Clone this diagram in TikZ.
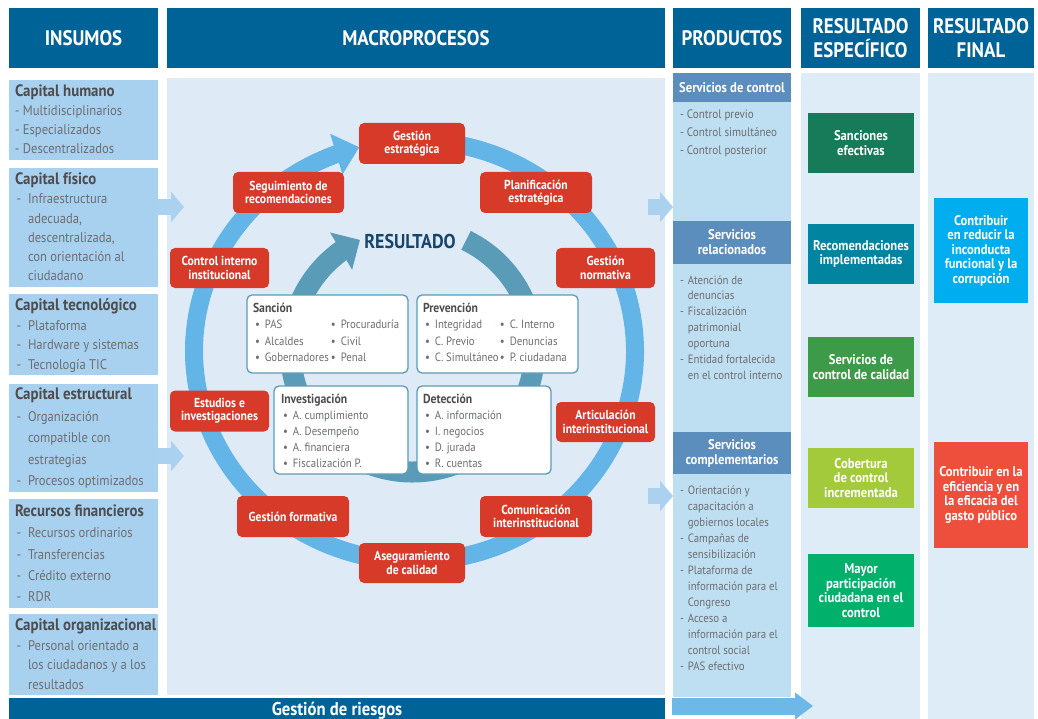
\documentclass[tikz,border=0pt]{standalone}
\usepackage{fontspec}
\setmainfont{PT Sans}[FakeStretch=0.9]
\usetikzlibrary{positioning,arrows.meta,bending}

\definecolor{hdrblue}{HTML}{006398}
\definecolor{inblue}{HTML}{A8D0EF}
\definecolor{panelbg}{HTML}{DEEBF7}
\definecolor{prodbg}{HTML}{BEDEF1}
\definecolor{prodhdr}{HTML}{5B8DBD}
\definecolor{resbg}{HTML}{DDECF6}
\definecolor{procred}{HTML}{D83A2A}
\definecolor{ringout}{HTML}{62B5E6}
\definecolor{ringin}{HTML}{5A9CB8}
\definecolor{titgray}{HTML}{4D4D4F}
\definecolor{txtgray}{HTML}{6D6E71}
\definecolor{resnavy}{HTML}{17456B}
\definecolor{arrblue}{HTML}{AAD2F0}
\definecolor{arrbot}{HTML}{6DB8E6}
\definecolor{rsanc}{HTML}{177A58}
\definecolor{rrecom}{HTML}{00849F}
\definecolor{rcalid}{HTML}{3C9A48}
\definecolor{rcobert}{HTML}{A3CA3B}
\definecolor{rpartic}{HTML}{00B06B}
\definecolor{freduc}{HTML}{00AEEF}
\definecolor{fefic}{HTML}{EE4F3C}

\newcommand{\boxtitle}{\color{titgray}\bfseries\fontsize{16.5}{19}\selectfont}
\newcommand{\grptitle}{\color{titgray}\bfseries\fontsize{13}{16}\selectfont}

\begin{document}
\begin{tikzpicture}[
    x=1pt, y=-1pt,
    every node/.style={inner sep=0pt, outer sep=0pt},
    hdr/.style={fill=hdrblue, text=white, align=center, minimum height=60pt,
        font=\bfseries\fontsize{21}{24}\selectfont},
    inbox/.style={fill=inblue, minimum width=149pt, anchor=north west},
    intxt/.style={anchor=base west, text=txtgray},
    proc/.style={fill=procred, text=white, rounded corners=5pt, align=center,
        minimum height=41pt, font=\bfseries\fontsize{13}{13.5}\selectfont},
    grupo/.style={draw=ringin, line width=1.3pt, fill=white, rounded corners=5pt},
    grptxt/.style={anchor=base west, text=txtgray, font=\fontsize{12}{16.4}\selectfont},
    prodhead/.style={fill=prodhdr, text=white, align=center, minimum width=118pt,
        anchor=north west, font=\bfseries\fontsize{14}{15}\selectfont},
    prodtxt/.style={anchor=base west, text=txtgray},
    resbox/.style={text=white, align=center, minimum width=106pt,
        font=\bfseries\fontsize{14}{14.5}\selectfont},
    flecha/.style={draw=arrblue, line width=16pt, -{Triangle[length=13pt,width=30pt]}}
]
\fill[white] (0,0) rectangle (1038,719);
\useasboundingbox (0,0) rectangle (1038,719);

% ---------------- Headers ----------------
\node[hdr, minimum width=149pt] (insumos) at (83.5,38) {INSUMOS};
\node[hdr, minimum width=498pt] (macro) at (416,38) {MACROPROCESOS};
\node[hdr, minimum width=118pt] (productos) at (732,38) {PRODUCTOS};
\node[hdr, minimum width=119pt] (resesp) at (860.5,38) {RESULTADO\\ESPECÍFICO};
\node[hdr, minimum width=106pt] (resfin) at (981,38) {RESULTADO\\FINAL};

% ---------------- Column backgrounds ----------------
\node[fill=panelbg, minimum width=498pt, minimum height=617pt, anchor=north west] (panel) at (167,78) {};
\node[fill=prodbg, minimum width=118pt, minimum height=624pt, anchor=north west] (prodcol) at (673,73) {};
\node[fill=resbg, minimum width=119pt, minimum height=646pt, anchor=north west] (espcol) at (801,73) {};
\node[fill=resbg, minimum width=106pt, minimum height=646pt, anchor=north west] (fincol) at (928,73) {};

% ---------------- Insumos ----------------
\node[inbox, minimum height=80pt] (hum) at (9,80) {};
\node[inbox, minimum height=119pt] (fis) at (9,168) {};
\node[inbox, minimum height=81pt] (tec) at (9,294) {};
\node[inbox, minimum height=108pt] (est) at (9,384) {};
\node[inbox, minimum height=109pt] (fin) at (9,499) {};
\node[inbox, minimum height=81pt] (org) at (9,614) {};

\node[intxt, font=\fontsize{14}{19}\selectfont] (humtxt) at (15,96.5) {\begin{tabular}[t]{@{}l@{}}
    {\boxtitle Capital humano}\\
    - Multidisciplinarios\\
    - Especializados\\
    - Descentralizados
\end{tabular}};
\node[intxt, font=\fontsize{14}{19.3}\selectfont] (fistxt) at (15,184.5) {\begin{tabular}[t]{@{\hspace{1.5pt}}l@{\hspace{7pt}}l@{}}
    \multicolumn{2}{@{}l@{}}{\boxtitle Capital físico}\\
    - & Infraestructura\\
      & adecuada,\\
      & descentralizada,\\
      & con orientación al\\
      & ciudadano
\end{tabular}};
\node[intxt, font=\fontsize{14}{19.5}\selectfont] (tectxt) at (15,310.5) {\begin{tabular}[t]{@{\hspace{1.5pt}}l@{\hspace{7pt}}l@{}}
    \multicolumn{2}{@{}l@{}}{\boxtitle Capital tecnológico}\\
    - & Plataforma\\
    - & Hardware y sistemas\\
    - & Tecnología TIC
\end{tabular}};
\node[intxt, font=\fontsize{14}{21.5}\selectfont] (esttxt) at (15,399.5) {\begin{tabular}[t]{@{\hspace{1.5pt}}l@{\hspace{7pt}}l@{}}
    \multicolumn{2}{@{}l@{}}{\boxtitle Capital estructural}\\
    - & Organización\\
      & compatible con\\
      & estrategias\\
    - & Procesos optimizados
\end{tabular}};
\node[intxt, font=\fontsize{14}{21.3}\selectfont] (fintxt) at (15,516.5) {\begin{tabular}[t]{@{\hspace{1.5pt}}l@{\hspace{7pt}}l@{}}
    \multicolumn{2}{@{}l@{}}{\boxtitle Recursos financieros}\\
    - & Recursos ordinarios\\
    - & Transferencias\\
    - & Crédito externo\\
    - & RDR
\end{tabular}};
\node[intxt, font=\fontsize{14}{19.5}\selectfont] (orgtxt) at (15,630.5) {\begin{tabular}[t]{@{\hspace{1.5pt}}l@{\hspace{7pt}}l@{}}
    \multicolumn{2}{@{}l@{}}{\boxtitle Capital organizacional}\\
    - & Personal orientado a\\
      & los ciudadanos y a los\\
      & resultados
\end{tabular}};

% ---------------- Block arrows ----------------
\coordinate (la1) at (158,207);  \coordinate (lb1) at (184,207);
\coordinate (la2) at (158,456);  \coordinate (lb2) at (184,456);
\coordinate (ra1) at (648,207);  \coordinate (rb1) at (673,207);
\coordinate (ra2) at (648,496);  \coordinate (rb2) at (673,496);
\coordinate (ba) at (672,706);   \coordinate (bb) at (813,706);
\draw[flecha] (la1) -- (lb1);
\draw[flecha] (la2) -- (lb2);
\draw[flecha] (ra1) -- (rb1);
\draw[flecha] (ra2) -- (rb2);
\draw[flecha, draw=arrbot, line width=17pt, -{Triangle[length=18pt,width=26pt]}] (ba) -- (bb);

% ---------------- Rings ----------------
\coordinate (cout) at (414.5,351);
\coordinate (cin) at (412.5,350);
\draw[ringout, line width=18pt, -{Triangle[length=24pt,width=41pt]}]
    (cout) ++(265:220.5 and 210.5) arc[start angle=265, end angle=615.5, x radius=220.5, y radius=210.5];
\draw[ringin, line width=21pt, -{Triangle[length=22pt,width=42pt]}]
    (cin) ++(296:122) arc[start angle=296, end angle=604.5, radius=122];

\node[font=\bfseries\fontsize{20}{20}\selectfont, text=resnavy] (resultado) at (410,241) {RESULTADO};

% ---------------- Groups ----------------
\node[grupo, minimum width=161pt, minimum height=78pt] (sancion) at (327.5,334) {};
\node[grupo, minimum width=161pt, minimum height=78pt] (prevencion) at (497.5,334) {};
\node[grupo, minimum width=134pt, minimum height=88pt] (investigacion) at (341,430) {};
\node[grupo, minimum width=134pt, minimum height=88pt] (deteccion) at (484,430) {};

\node[grptxt] (sanciontxt) at (253,312.5) {\begin{tabular}[t]{@{\hspace{2pt}}l@{\hspace{5pt}}l@{}l@{\hspace{5pt}}l@{}}
    \multicolumn{4}{@{}l@{}}{\grptitle Sanción}\\
    • & \makebox[66pt][l]{PAS} & • & Procuraduría\\
    • & Alcaldes & • & Civil\\
    • & Gobernadores & • & Penal
\end{tabular}};
\node[grptxt] (prevenciontxt) at (423,312.5) {\begin{tabular}[t]{@{\hspace{2pt}}l@{\hspace{5pt}}l@{}l@{\hspace{5pt}}l@{}}
    \multicolumn{4}{@{}l@{}}{\grptitle Prevención}\\
    • & \makebox[65pt][l]{Integridad} & • & C. Interno\\
    • & C. Previo & • & Denuncias\\
    • & C. Simultáneo & • & P. ciudadana
\end{tabular}};
\node[grptxt, font=\fontsize{12}{16}\selectfont] (investigaciontxt) at (281,403.5) {\begin{tabular}[t]{@{\hspace{2pt}}l@{\hspace{5pt}}l@{}}
    \multicolumn{2}{@{}l@{}}{\grptitle Investigación}\\
    • & A. cumplimiento\\
    • & A. Desempeño\\
    • & A. financiera\\
    • & Fiscalización P.
\end{tabular}};
\node[grptxt, font=\fontsize{12}{16}\selectfont] (detecciontxt) at (423,403.5) {\begin{tabular}[t]{@{\hspace{2pt}}l@{\hspace{5pt}}l@{}}
    \multicolumn{2}{@{}l@{}}{\grptitle Detección}\\
    • & A. información\\
    • & I. negocios\\
    • & D. jurada\\
    • & R. cuentas
\end{tabular}};

% ---------------- Macroprocesos ----------------
\node[proc, minimum width=106pt] (ge) at (412,143.5) {Gestión\\estratégica};
\node[proc, minimum width=111pt] (seg) at (288.5,192.5) {Seguimiento de\\recomendaciones};
\node[proc, minimum width=112pt] (plan) at (536,192.5) {Planificación\\estratégica};
\node[proc, minimum width=99pt, minimum height=40pt] (cii) at (219.5,268) {Control interno\\institucional};
\node[proc, minimum width=99pt, minimum height=40pt] (gn) at (605.5,268) {Gestión\\normativa};
\node[proc, minimum width=99pt] (ei) at (219.5,411) {Estudios e\\investigaciones};
\node[proc, minimum width=99pt, minimum height=40pt] (ai) at (605.5,422) {Articulación\\interinstitucional};
\node[proc, minimum width=112pt] (gf) at (293,516.5) {Gestión formativa};
\node[proc, minimum width=112pt] (ci) at (536,516.5) {Comunicación\\interinstitucional};
\node[proc, minimum width=106pt, minimum height=40pt] (ac) at (412,563) {Aseguramiento\\de calidad};

% ---------------- Gestión de riesgos ----------------
\node[fill=hdrblue, text=white, minimum width=656pt, minimum height=26pt, anchor=north west,
    font=\bfseries\fontsize{18.5}{20}\selectfont] (riesgos) at (9,698) {Gestión de riesgos};

% ---------------- Productos ----------------
\node[prodhead, minimum height=29pt] (sctrl) at (673,73) {Servicios de control};
\node[prodhead, minimum height=43pt] (srel) at (673,221) {Servicios\\relacionados};
\node[prodhead, minimum height=42pt] (scomp) at (673,432) {Servicios\\complementarios};

\node[prodtxt, font=\fontsize{12.3}{17.7}\selectfont] (sctrltxt) at (680,119) {\begin{tabular}[t]{@{}l@{}}
    - Control previo\\
    - Control simultáneo\\
    - Control posterior
\end{tabular}};
\node[prodtxt, font=\fontsize{12}{15.9}\selectfont] (sreltxt) at (680,284) {\begin{tabular}[t]{@{}l@{\hspace{4pt}}l@{}}
    - & Atención de\\
      & denuncias\\
    - & Fiscalización\\
      & patrimonial\\
      & oportuna\\
    - & Entidad fortalecida\\
      & en el control interno
\end{tabular}};
\node[prodtxt, font=\fontsize{12}{16}\selectfont] (scomptxt) at (680,494) {\begin{tabular}[t]{@{}l@{\hspace{4pt}}l@{}}
    - & Orientación y\\
      & capacitación a\\
      & gobiernos locales\\
    - & Campañas de\\
      & sensibilización\\
    - & Plataforma de\\
      & información para el\\
      & Congreso\\
    - & Acceso a\\
      & información para el\\
      & control social\\
    - & PAS efectivo
\end{tabular}};

% ---------------- Resultado especifico ----------------
\node[resbox, fill=rsanc, minimum height=60pt] (sanc) at (861,143) {Sanciones\\efectivas};
\node[resbox, fill=rrecom, minimum height=60pt] (recom) at (861,254) {Recomendaciones\\implementadas};
\node[resbox, fill=rcalid, minimum height=60pt] (calid) at (861,367) {Servicios de\\control de calidad};
\node[resbox, fill=rcobert, minimum height=60pt] (cobert) at (861,478) {Cobertura\\de control\\incrementada};
\node[resbox, fill=rpartic, minimum height=73pt] (partic) at (861,590.5) {Mayor\\participación\\ciudadana en el\\control};

% ---------------- Resultado final ----------------
\node[resbox, fill=freduc, minimum width=94pt, minimum height=105pt] (reduc) at (981,250.5) {Contribuir\\en reducir la\\inconducta\\funcional y la\\corrupción};
\node[resbox, fill=fefic, minimum width=94pt, minimum height=106pt] (efic) at (981,495) {Contribuir en la\\eficiencia y en\\la eficacia del\\gasto público};

\end{tikzpicture}
\end{document}
